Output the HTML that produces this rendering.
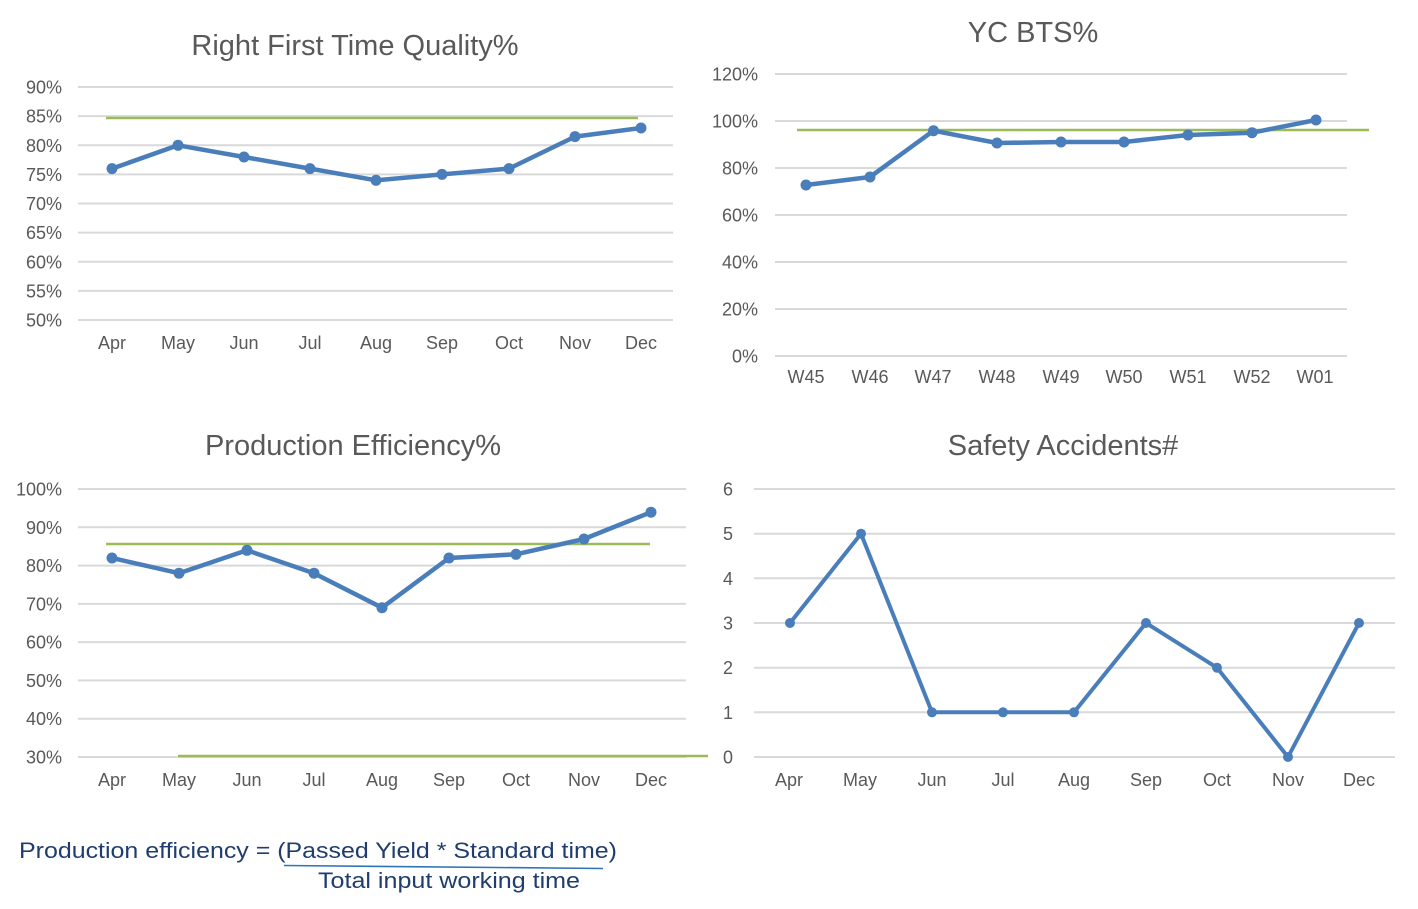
<!DOCTYPE html>
<html>
<head>
<meta charset="utf-8">
<style>
  html, body { margin: 0; padding: 0; background: #ffffff; }
  svg { display: block; }
  text { font-family: "Liberation Sans", Arial, sans-serif; }
  .t { font-size: 29px; fill: #595959; text-anchor: middle; }
  .yl { font-size: 18px; fill: #595959; text-anchor: end; }
  .xl { font-size: 18px; fill: #595959; text-anchor: middle; }
  .g { stroke: #d9d9d9; stroke-width: 2; }
  .tg { stroke: #9bbb59; stroke-width: 2.5; }
  .s { fill: none; stroke: #4a7ebb; stroke-width: 4.5; stroke-linejoin: round; stroke-linecap: round; }
  .m { fill: #4a7ebb; }
  .f { font-size: 22px; fill: #1f3d6e; }
</style>
</head>
<body>
<svg width="1418" height="909" viewBox="0 0 1418 909" xmlns="http://www.w3.org/2000/svg">

  <!-- ============ Chart 1: Right First Time Quality% ============ -->
  <text class="t" x="355" y="55">Right First Time Quality%</text>
  <g>
    <line class="g" x1="78" y1="87" x2="673" y2="87"/>
    <line class="g" x1="78" y1="116.1" x2="673" y2="116.1"/>
    <line class="g" x1="78" y1="145.3" x2="673" y2="145.3"/>
    <line class="g" x1="78" y1="174.4" x2="673" y2="174.4"/>
    <line class="g" x1="78" y1="203.5" x2="673" y2="203.5"/>
    <line class="g" x1="78" y1="232.6" x2="673" y2="232.6"/>
    <line class="g" x1="78" y1="261.8" x2="673" y2="261.8"/>
    <line class="g" x1="78" y1="290.9" x2="673" y2="290.9"/>
    <line class="g" x1="78" y1="320" x2="673" y2="320"/>
  </g>
  <g>
    <text class="yl" x="62" y="93.5">90%</text>
    <text class="yl" x="62" y="122.6">85%</text>
    <text class="yl" x="62" y="151.8">80%</text>
    <text class="yl" x="62" y="180.9">75%</text>
    <text class="yl" x="62" y="210">70%</text>
    <text class="yl" x="62" y="239.1">65%</text>
    <text class="yl" x="62" y="268.3">60%</text>
    <text class="yl" x="62" y="297.4">55%</text>
    <text class="yl" x="62" y="326.5">50%</text>
  </g>
  <g>
    <text class="xl" x="112" y="349">Apr</text>
    <text class="xl" x="178" y="349">May</text>
    <text class="xl" x="244" y="349">Jun</text>
    <text class="xl" x="310" y="349">Jul</text>
    <text class="xl" x="376" y="349">Aug</text>
    <text class="xl" x="442" y="349">Sep</text>
    <text class="xl" x="509" y="349">Oct</text>
    <text class="xl" x="575" y="349">Nov</text>
    <text class="xl" x="641" y="349">Dec</text>
  </g>
  <line class="tg" x1="106" y1="118" x2="638" y2="118"/>
  <polyline class="s" points="112,168.6 178,145.3 244,157 310,168.6 376,180.3 442,174.4 509,168.6 575,136.6 641,128"/>
  <g class="m">
    <circle cx="112" cy="168.6" r="5.5"/>
    <circle cx="178" cy="145.3" r="5.5"/>
    <circle cx="244" cy="157" r="5.5"/>
    <circle cx="310" cy="168.6" r="5.5"/>
    <circle cx="376" cy="180.3" r="5.5"/>
    <circle cx="442" cy="174.4" r="5.5"/>
    <circle cx="509" cy="168.6" r="5.5"/>
    <circle cx="575" cy="136.6" r="5.5"/>
    <circle cx="641" cy="128" r="5.5"/>
  </g>

  <!-- ============ Chart 2: YC BTS% ============ -->
  <text class="t" x="1033" y="42">YC BTS%</text>
  <g>
    <line class="g" x1="775" y1="74" x2="1347" y2="74"/>
    <line class="g" x1="775" y1="121" x2="1347" y2="121"/>
    <line class="g" x1="775" y1="168" x2="1347" y2="168"/>
    <line class="g" x1="775" y1="215" x2="1347" y2="215"/>
    <line class="g" x1="775" y1="262" x2="1347" y2="262"/>
    <line class="g" x1="775" y1="309" x2="1347" y2="309"/>
    <line class="g" x1="775" y1="356" x2="1347" y2="356"/>
  </g>
  <g>
    <text class="yl" x="758" y="80.5">120%</text>
    <text class="yl" x="758" y="127.5">100%</text>
    <text class="yl" x="758" y="174.5">80%</text>
    <text class="yl" x="758" y="221.5">60%</text>
    <text class="yl" x="758" y="268.5">40%</text>
    <text class="yl" x="758" y="315.5">20%</text>
    <text class="yl" x="758" y="362.5">0%</text>
  </g>
  <g>
    <text class="xl" x="806" y="383">W45</text>
    <text class="xl" x="870" y="383">W46</text>
    <text class="xl" x="933" y="383">W47</text>
    <text class="xl" x="997" y="383">W48</text>
    <text class="xl" x="1061" y="383">W49</text>
    <text class="xl" x="1124" y="383">W50</text>
    <text class="xl" x="1188" y="383">W51</text>
    <text class="xl" x="1252" y="383">W52</text>
    <text class="xl" x="1315" y="383">W01</text>
  </g>
  <line class="tg" x1="797" y1="130" x2="1369" y2="130"/>
  <polyline class="s" points="806,185 870,177 933.5,130.7 997,143 1061,142 1124,142 1188,135 1252,132.7 1316,120"/>
  <g class="m">
    <circle cx="806" cy="185" r="5.5"/>
    <circle cx="870" cy="177" r="5.5"/>
    <circle cx="933.5" cy="130.7" r="5.5"/>
    <circle cx="997" cy="143" r="5.5"/>
    <circle cx="1061" cy="142" r="5.5"/>
    <circle cx="1124" cy="142" r="5.5"/>
    <circle cx="1188" cy="135" r="5.5"/>
    <circle cx="1252" cy="132.7" r="5.5"/>
    <circle cx="1316" cy="120" r="5.5"/>
  </g>

  <!-- ============ Chart 3: Production Efficiency% ============ -->
  <text class="t" x="353" y="455">Production Efficiency%</text>
  <g>
    <line class="g" x1="78" y1="489" x2="686" y2="489"/>
    <line class="g" x1="78" y1="527.3" x2="686" y2="527.3"/>
    <line class="g" x1="78" y1="565.6" x2="686" y2="565.6"/>
    <line class="g" x1="78" y1="603.9" x2="686" y2="603.9"/>
    <line class="g" x1="78" y1="642.1" x2="686" y2="642.1"/>
    <line class="g" x1="78" y1="680.4" x2="686" y2="680.4"/>
    <line class="g" x1="78" y1="718.7" x2="686" y2="718.7"/>
    <line class="g" x1="78" y1="757" x2="686" y2="757"/>
  </g>
  <g>
    <text class="yl" x="62" y="495.5">100%</text>
    <text class="yl" x="62" y="533.8">90%</text>
    <text class="yl" x="62" y="572.1">80%</text>
    <text class="yl" x="62" y="610.4">70%</text>
    <text class="yl" x="62" y="648.6">60%</text>
    <text class="yl" x="62" y="686.9">50%</text>
    <text class="yl" x="62" y="725.2">40%</text>
    <text class="yl" x="62" y="763.5">30%</text>
  </g>
  <g>
    <text class="xl" x="112" y="786">Apr</text>
    <text class="xl" x="179" y="786">May</text>
    <text class="xl" x="247" y="786">Jun</text>
    <text class="xl" x="314" y="786">Jul</text>
    <text class="xl" x="382" y="786">Aug</text>
    <text class="xl" x="449" y="786">Sep</text>
    <text class="xl" x="516" y="786">Oct</text>
    <text class="xl" x="584" y="786">Nov</text>
    <text class="xl" x="651" y="786">Dec</text>
  </g>
  <line class="tg" x1="106" y1="544" x2="650" y2="544"/>
  <line class="tg" x1="178" y1="756" x2="708" y2="756"/>
  <polyline class="s" points="112,558 179,573.2 247,550.3 314,573.2 382,607.7 449,558 516,554.3 584,539 651,512.2"/>
  <g class="m">
    <circle cx="112" cy="558" r="5.5"/>
    <circle cx="179" cy="573.2" r="5.5"/>
    <circle cx="247" cy="550.3" r="5.5"/>
    <circle cx="314" cy="573.2" r="5.5"/>
    <circle cx="382" cy="607.7" r="5.5"/>
    <circle cx="449" cy="558" r="5.5"/>
    <circle cx="516" cy="554.3" r="5.5"/>
    <circle cx="584" cy="539" r="5.5"/>
    <circle cx="651" cy="512.2" r="5.5"/>
  </g>

  <!-- ============ Chart 4: Safety Accidents# ============ -->
  <text class="t" x="1063" y="455">Safety Accidents#</text>
  <g>
    <line class="g" x1="754" y1="489" x2="1395" y2="489"/>
    <line class="g" x1="754" y1="533.7" x2="1395" y2="533.7"/>
    <line class="g" x1="754" y1="578.3" x2="1395" y2="578.3"/>
    <line class="g" x1="754" y1="623" x2="1395" y2="623"/>
    <line class="g" x1="754" y1="667.7" x2="1395" y2="667.7"/>
    <line class="g" x1="754" y1="712.3" x2="1395" y2="712.3"/>
    <line class="g" x1="754" y1="757" x2="1395" y2="757"/>
  </g>
  <g>
    <text class="yl" x="733" y="495.5">6</text>
    <text class="yl" x="733" y="540.2">5</text>
    <text class="yl" x="733" y="584.8">4</text>
    <text class="yl" x="733" y="629.5">3</text>
    <text class="yl" x="733" y="674.2">2</text>
    <text class="yl" x="733" y="718.8">1</text>
    <text class="yl" x="733" y="763.5">0</text>
  </g>
  <g>
    <text class="xl" x="789" y="786">Apr</text>
    <text class="xl" x="860" y="786">May</text>
    <text class="xl" x="932" y="786">Jun</text>
    <text class="xl" x="1003" y="786">Jul</text>
    <text class="xl" x="1074" y="786">Aug</text>
    <text class="xl" x="1146" y="786">Sep</text>
    <text class="xl" x="1217" y="786">Oct</text>
    <text class="xl" x="1288" y="786">Nov</text>
    <text class="xl" x="1359" y="786">Dec</text>
  </g>
  <polyline class="s" style="stroke-width:4" points="790,623 861,533.7 932,712.3 1003,712.3 1074,712.3 1146,623 1217,667.7 1288,757 1359,623"/>
  <g class="m">
    <circle cx="790" cy="623" r="5"/>
    <circle cx="861" cy="533.7" r="5"/>
    <circle cx="932" cy="712.3" r="5"/>
    <circle cx="1003" cy="712.3" r="5"/>
    <circle cx="1074" cy="712.3" r="5"/>
    <circle cx="1146" cy="623" r="5"/>
    <circle cx="1217" cy="667.7" r="5"/>
    <circle cx="1288" cy="757" r="5"/>
    <circle cx="1359" cy="623" r="5"/>
  </g>

  <!-- ============ Formula ============ -->
  <text class="f" x="19" y="858" textLength="598" lengthAdjust="spacingAndGlyphs">Production efficiency = (Passed Yield * Standard time)</text>
  <path d="M284,865.5 Q440,867 603,868.5" fill="none" stroke="#2e75b6" stroke-width="1.6"/>
  <text class="f" x="318" y="888" textLength="262" lengthAdjust="spacingAndGlyphs">Total input working time</text>
</svg>
</body>
</html>
